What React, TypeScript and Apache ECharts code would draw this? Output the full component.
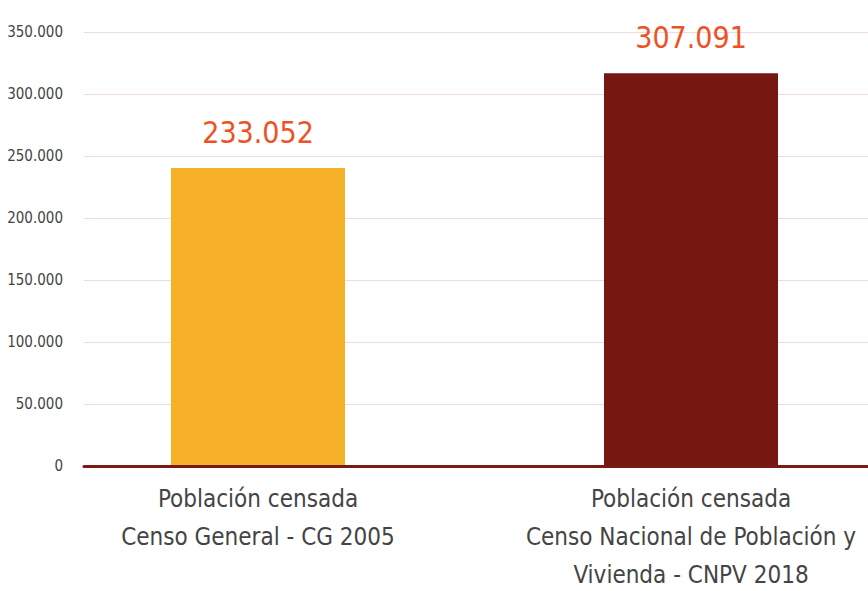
import React, { useEffect, useRef } from "react";
import * as echarts from "echarts";

const categories = [
  "Población censada\nCenso General - CG 2005",
  "Población censada\nCenso Nacional de Población y\nVivienda - CNPV 2018",
];
const values = [233052, 307091];
const barColors = ["#F5B027", "#771711"];
const yTicks = [0, 50000, 100000, 150000, 200000, 250000, 300000, 350000];

const FONT = "'DejaVu Sans Condensed', 'Roboto', sans-serif";

const fmt = (v: number) => v.toLocaleString("de-DE");

export default function App() {
  const ref = useRef<HTMLDivElement>(null);
  useEffect(() => {
    document.body.style.margin = "0";
    const chart = echarts.init(ref.current!, undefined, { renderer: "svg" });
    const yMax = yTicks[yTicks.length - 1];
    chart.setOption({
      animation: false,
      backgroundColor: "#ffffff",
      grid: [
        { left: 84, right: 0, top: 32, bottom: 125, outerBoundsMode: "none", containLabel: false },
        { left: 41.5, right: -39.5, top: 32, bottom: 125, outerBoundsMode: "none", containLabel: false },
      ],
      xAxis: [
        {
          gridIndex: 0,
          type: "category",
          data: ["", ""],
          axisLine: { show: true, lineStyle: { color: "#7A1A14", width: 3 } },
          axisTick: { show: false },
          axisLabel: { show: false },
          z: 5,
        },
        {
          gridIndex: 1,
          type: "category",
          data: categories,
          axisLine: { show: false },
          axisTick: { show: false },
          axisLabel: {
            interval: 0,
            margin: 14,
            color: "#444444",
            fontFamily: FONT,
            fontSize: 24,
            lineHeight: 38,
          },
        },
      ],
      yAxis: [
        {
          gridIndex: 0,
          type: "value",
          min: 0,
          max: yMax,
          interval: 50000,
          axisLine: { show: false },
          axisTick: { show: false },
          splitLine: { lineStyle: { color: "#EFDADD", width: 1 } },
          axisLabel: {
            margin: 21,
            color: "#444444",
            fontFamily: FONT,
            fontSize: 15,
            formatter: (v: number) => fmt(v),
          },
        },
        {
          gridIndex: 1,
          type: "value",
          min: 0,
          max: 339424,
          show: false,
          splitLine: { show: false },
        },
      ],
      series: [
        {
          type: "bar",
          xAxisIndex: 1,
          yAxisIndex: 1,
          barWidth: 174,
          data: values.map((v, i) => ({ value: v, itemStyle: { color: barColors[i] } })),
          label: {
            show: true,
            position: "top",
            distance: 21,
            color: "#EE5224",
            fontFamily: FONT,
            fontSize: 30,
            formatter: (p: any) => fmt(p.value),
          },
        },
      ],
    });
    return () => chart.dispose();
  }, []);
  return <div ref={ref} style={{ width: 868, height: 591 }} />;
}
